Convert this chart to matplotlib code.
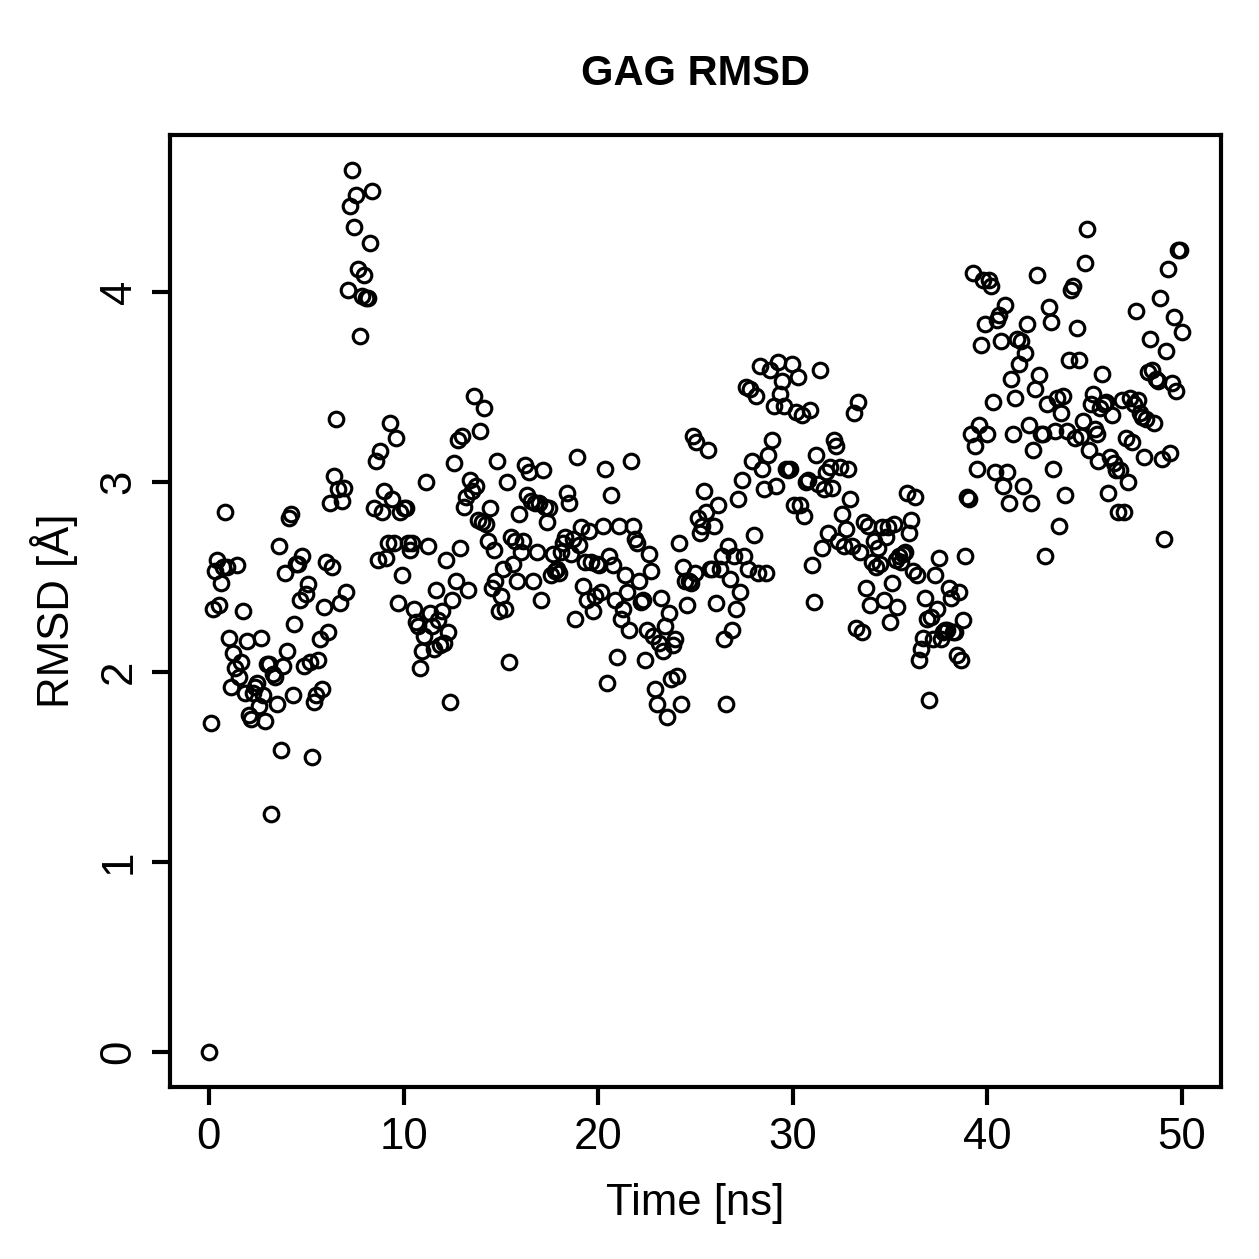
import numpy as np
import matplotlib
matplotlib.use("Agg")
import matplotlib.pyplot as plt

plt.rcParams['font.family'] = ['Liberation Sans', 'DejaVu Sans']

# RMSD values, in time order (0 .. 50 ns)
rmsd = [
    0.00, 1.73, 2.33, 2.53, 2.59, 2.35, 2.47, 2.55, 2.84, 2.55,
    2.18, 1.92, 2.10, 2.02, 2.56, 1.97, 2.05, 2.32, 1.89, 2.16,
    1.77, 1.75, 1.89, 1.92, 1.94, 1.82, 2.18, 1.88, 1.74, 2.04,
    2.04, 1.25, 1.99, 1.97, 1.83, 2.66, 1.59, 2.03, 2.52, 2.11,
    2.81, 2.83, 1.88, 2.25, 2.57, 2.57, 2.38, 2.61, 2.03, 2.41,
    2.46, 2.05, 1.55, 1.84, 1.88, 2.06, 2.17, 1.91, 2.34, 2.58,
    2.21, 2.89, 2.55, 3.03, 3.33, 2.96, 2.36, 2.90, 2.97, 2.42,
    4.01, 4.45, 4.64, 4.34, 4.51, 4.12, 3.77, 3.98, 4.09, 3.97,
    3.97, 4.26, 4.53, 2.86, 3.11, 2.59, 3.16, 2.84, 2.95, 2.60,
    2.68, 3.31, 2.91, 2.68, 3.23, 2.36, 2.84, 2.51, 2.86, 2.86,
    2.68, 2.64, 2.68, 2.33, 2.26, 2.24, 2.02, 2.11, 2.19, 3.00,
    2.66, 2.31, 2.24, 2.12, 2.43, 2.27, 2.14, 2.32, 2.15, 2.59,
    2.21, 1.84, 2.38, 3.10, 2.48, 3.22, 2.65, 3.24, 2.87, 2.92,
    2.43, 3.01, 2.95, 3.45, 2.98, 2.80, 3.27, 2.79, 3.39, 2.78,
    2.69, 2.86, 2.44, 2.64, 2.48, 3.11, 2.32, 2.40, 2.54, 2.33,
    3.00, 2.05, 2.71, 2.57, 2.69, 2.48, 2.83, 2.63, 2.69, 3.09,
    2.93, 3.05, 2.90, 2.48, 2.89, 2.63, 2.89, 2.38, 3.06, 2.87,
    2.79, 2.86, 2.51, 2.62, 2.53, 2.54, 2.52, 2.63, 2.68, 2.71,
    2.94, 2.89, 2.62, 2.70, 2.28, 3.13, 2.67, 2.76, 2.45, 2.58,
    2.38, 2.74, 2.58, 2.32, 2.40, 2.57, 2.56, 2.42, 2.77, 3.07,
    1.94, 2.61, 2.93, 2.56, 2.38, 2.08, 2.77, 2.28, 2.33, 2.51,
    2.42, 2.22, 3.11, 2.77, 2.70, 2.68, 2.48, 2.37, 2.38, 2.06,
    2.22, 2.62, 2.53, 2.19, 1.91, 1.83, 2.15, 2.39, 2.11, 2.24,
    1.76, 2.31, 1.96, 2.14, 2.17, 1.98, 2.68, 1.83, 2.55, 2.48,
    2.35, 2.48, 2.47, 3.24, 2.52, 3.21, 2.81, 2.73, 2.77, 2.95,
    2.84, 3.17, 2.54, 2.54, 2.77, 2.36, 2.88, 2.54, 2.61, 2.17,
    1.83, 2.66, 2.49, 2.22, 2.61, 2.33, 2.91, 2.42, 3.01, 2.61,
    3.50, 2.54, 3.49, 3.11, 2.72, 3.45, 2.52, 3.61, 3.07, 2.96,
    2.52, 3.14, 3.59, 3.22, 3.40, 2.98, 3.63, 3.46, 3.53, 3.40,
    3.07, 3.06, 3.07, 3.62, 2.88, 3.37, 3.55, 2.88, 3.35, 2.82,
    3.00, 3.01, 3.38, 2.56, 2.37, 3.14, 2.99, 3.59, 2.65, 2.96,
    3.05, 2.73, 3.08, 2.97, 3.22, 3.19, 2.69, 3.08, 2.83, 2.66,
    2.75, 3.07, 2.91, 2.66, 3.36, 2.23, 3.42, 2.63, 2.21, 2.79,
    2.44, 2.77, 2.35, 2.58, 2.69, 2.55, 2.65, 2.57, 2.76, 2.38,
    2.71, 2.76, 2.26, 2.47, 2.78, 2.59, 2.34, 2.61, 2.58, 2.62,
    2.63, 2.94, 2.73, 2.80, 2.53, 2.92, 2.51, 2.06, 2.12, 2.18,
    2.39, 2.28, 1.85, 2.29, 2.17, 2.51, 2.33, 2.60, 2.17, 2.21,
    2.22, 2.22, 2.44, 2.39, 2.21, 2.21, 2.09, 2.42, 2.06, 2.27,
    2.61, 2.92, 2.91, 3.25, 4.10, 3.19, 3.07, 3.30, 3.72, 4.06,
    3.83, 3.25, 4.06, 4.03, 3.42, 3.05, 3.85, 3.88, 3.74, 2.98,
    3.93, 3.05, 2.89, 3.54, 3.25, 3.44, 3.75, 3.62, 3.74, 2.98,
    3.68, 3.83, 3.30, 2.89, 3.17, 3.49, 4.09, 3.56, 3.25, 3.25,
    2.61, 3.41, 3.92, 3.84, 3.07, 3.27, 3.44, 2.77, 3.36, 3.45,
    2.93, 3.27, 3.64, 4.01, 4.03, 3.23, 3.81, 3.64, 3.24, 3.32,
    4.15, 4.33, 3.17, 3.41, 3.46, 3.28, 3.25, 3.11, 3.39, 3.57,
    3.41, 3.42, 2.94, 3.13, 3.35, 3.10, 3.06, 2.84, 3.06, 3.43,
    2.84, 3.23, 3.00, 3.44, 3.21, 3.41, 3.90, 3.43, 3.36, 3.34,
    3.13, 3.33, 3.58, 3.75, 3.59, 3.31, 3.54, 3.53, 3.97, 3.12,
    2.70, 3.69, 4.12, 3.15, 3.52, 3.87, 3.48, 4.22, 4.22, 3.79,
]
time_ns = np.linspace(0, 50, len(rmsd))

xticks = [0, 10, 20, 30, 40, 50]
yticks = [0, 1, 2, 3, 4]

fig = plt.figure(figsize=(1259 / 300, 1259 / 300), dpi=300)
ax = fig.add_axes([170 / 1259, 1 - 1087 / 1259, 1051 / 1259, 952 / 1259])

ax.plot(time_ns, rmsd, linestyle='none', marker='o', markersize=3.5,
        markerfacecolor='none', markeredgecolor='black', markeredgewidth=0.75)

ax.set_xlim(-2, 52)
ax.set_ylim(-0.186, 4.826)
ax.set_xticks(xticks)
ax.set_yticks(yticks)
for s in ax.spines.values():
    s.set_linewidth(1.0)
ax.tick_params(direction='out', length=4.3, width=1.0, labelsize=10.5, pad=3)
ax.tick_params(axis='y', pad=3)
plt.setp(ax.get_yticklabels(), rotation=90, va='center')

ax.set_xlabel('Time [ns]', fontsize=10.5, labelpad=6)
ax.set_ylabel('RMSD [Å]', fontsize=10.5, labelpad=5)
ax.set_title('GAG RMSD', fontsize=10, fontweight='bold', pad=12)

fig.savefig('out.png', dpi=300)
